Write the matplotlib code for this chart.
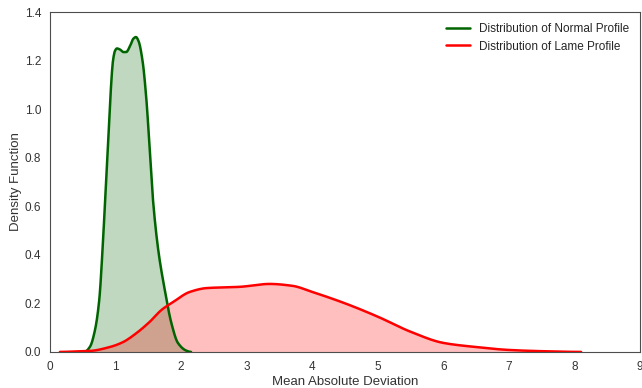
import matplotlib
matplotlib.use("Agg")
import matplotlib.pyplot as plt
import seaborn as sns
import numpy as np

# curve points
normal_x = [0.45, 0.53, 0.61, 0.685, 0.75, 0.80, 0.84, 0.88, 0.92, 0.96, 0.99, 1.02,
            1.07, 1.12, 1.16, 1.22, 1.27, 1.31, 1.35, 1.41, 1.47, 1.52, 1.57, 1.65,
            1.75, 1.85, 1.95, 2.08, 2.15]
normal_y = [0.0, 0.001, 0.022, 0.09, 0.214, 0.42, 0.626, 0.832, 1.05, 1.20, 1.24, 1.25,
            1.245, 1.235, 1.235, 1.26, 1.29, 1.297, 1.28, 1.20, 1.037, 0.832, 0.626, 0.42,
            0.255, 0.119, 0.037, 0.005, 0.0]

lame_x = [0.15, 0.4, 0.61, 0.91, 1.11, 1.32, 1.52, 1.70, 1.88, 2.13, 2.39, 2.89, 3.35,
          3.7, 4.0, 4.5, 5.0, 5.5, 6.0, 6.5, 7.0, 7.5, 8.1]
lame_y = [0.0, 0.002, 0.004, 0.02, 0.04, 0.078, 0.124, 0.173, 0.206, 0.247, 0.263,
          0.268, 0.28, 0.272, 0.247, 0.20, 0.145, 0.083, 0.037, 0.02, 0.008, 0.003, 0.0]


def pchip(x, y, n=400):
    # shape-preserving cubic through the read points, just for a smooth line
    x = np.asarray(x, float)
    y = np.asarray(y, float)
    h = np.diff(x)
    d = np.diff(y) / h
    m = np.zeros_like(y)
    for k in range(1, len(x) - 1):
        if d[k - 1] * d[k] > 0:
            w1 = 2 * h[k] + h[k - 1]
            w2 = h[k] + 2 * h[k - 1]
            m[k] = (w1 + w2) / (w1 / d[k - 1] + w2 / d[k])
    xs = np.linspace(x[0], x[-1], n)
    i = np.clip(np.searchsorted(x, xs) - 1, 0, len(h) - 1)
    t = (xs - x[i]) / h[i]
    h00 = 2 * t**3 - 3 * t**2 + 1
    h10 = t**3 - 2 * t**2 + t
    h01 = -2 * t**3 + 3 * t**2
    h11 = t**3 - t**2
    ys = h00 * y[i] + h10 * h[i] * m[i] + h01 * y[i + 1] + h11 * h[i] * m[i + 1]
    return xs, ys


sns.set_style("white")
plt.rcParams["font.family"] = ["Liberation Sans", "DejaVu Sans"]
plt.rcParams["axes.edgecolor"] = "#4d4d4d"

fig = plt.figure(figsize=(6.42, 3.88), dpi=100)
ax = fig.add_axes([0.078, 0.093, 0.919, 0.876])

nx, ny = pchip(normal_x, normal_y)
lx, ly = pchip(lame_x, lame_y)

ax.plot(nx, ny, color="darkgreen", lw=1.8, label="Distribution of Normal Profile")
ax.fill_between(nx, ny, color="darkgreen", alpha=0.25, lw=0)
ax.plot(lx, ly, color="red", lw=1.8, label="Distribution of Lame Profile")
ax.fill_between(lx, ly, color="red", alpha=0.25, lw=0)

ax.set_xlim(0, 9)
ax.set_ylim(0, 1.4)
ax.set_xlabel("Mean Absolute Deviation", fontsize=9.5, labelpad=2, color="#333333")
ax.set_ylabel("Density Function", fontsize=9.5, labelpad=2, color="#333333")
ax.tick_params(axis="both", labelsize=8.5, pad=3, colors="#333333")
ax.legend(loc="upper right", frameon=False, fontsize=8.5)

fig.savefig("out.png", dpi=100)
